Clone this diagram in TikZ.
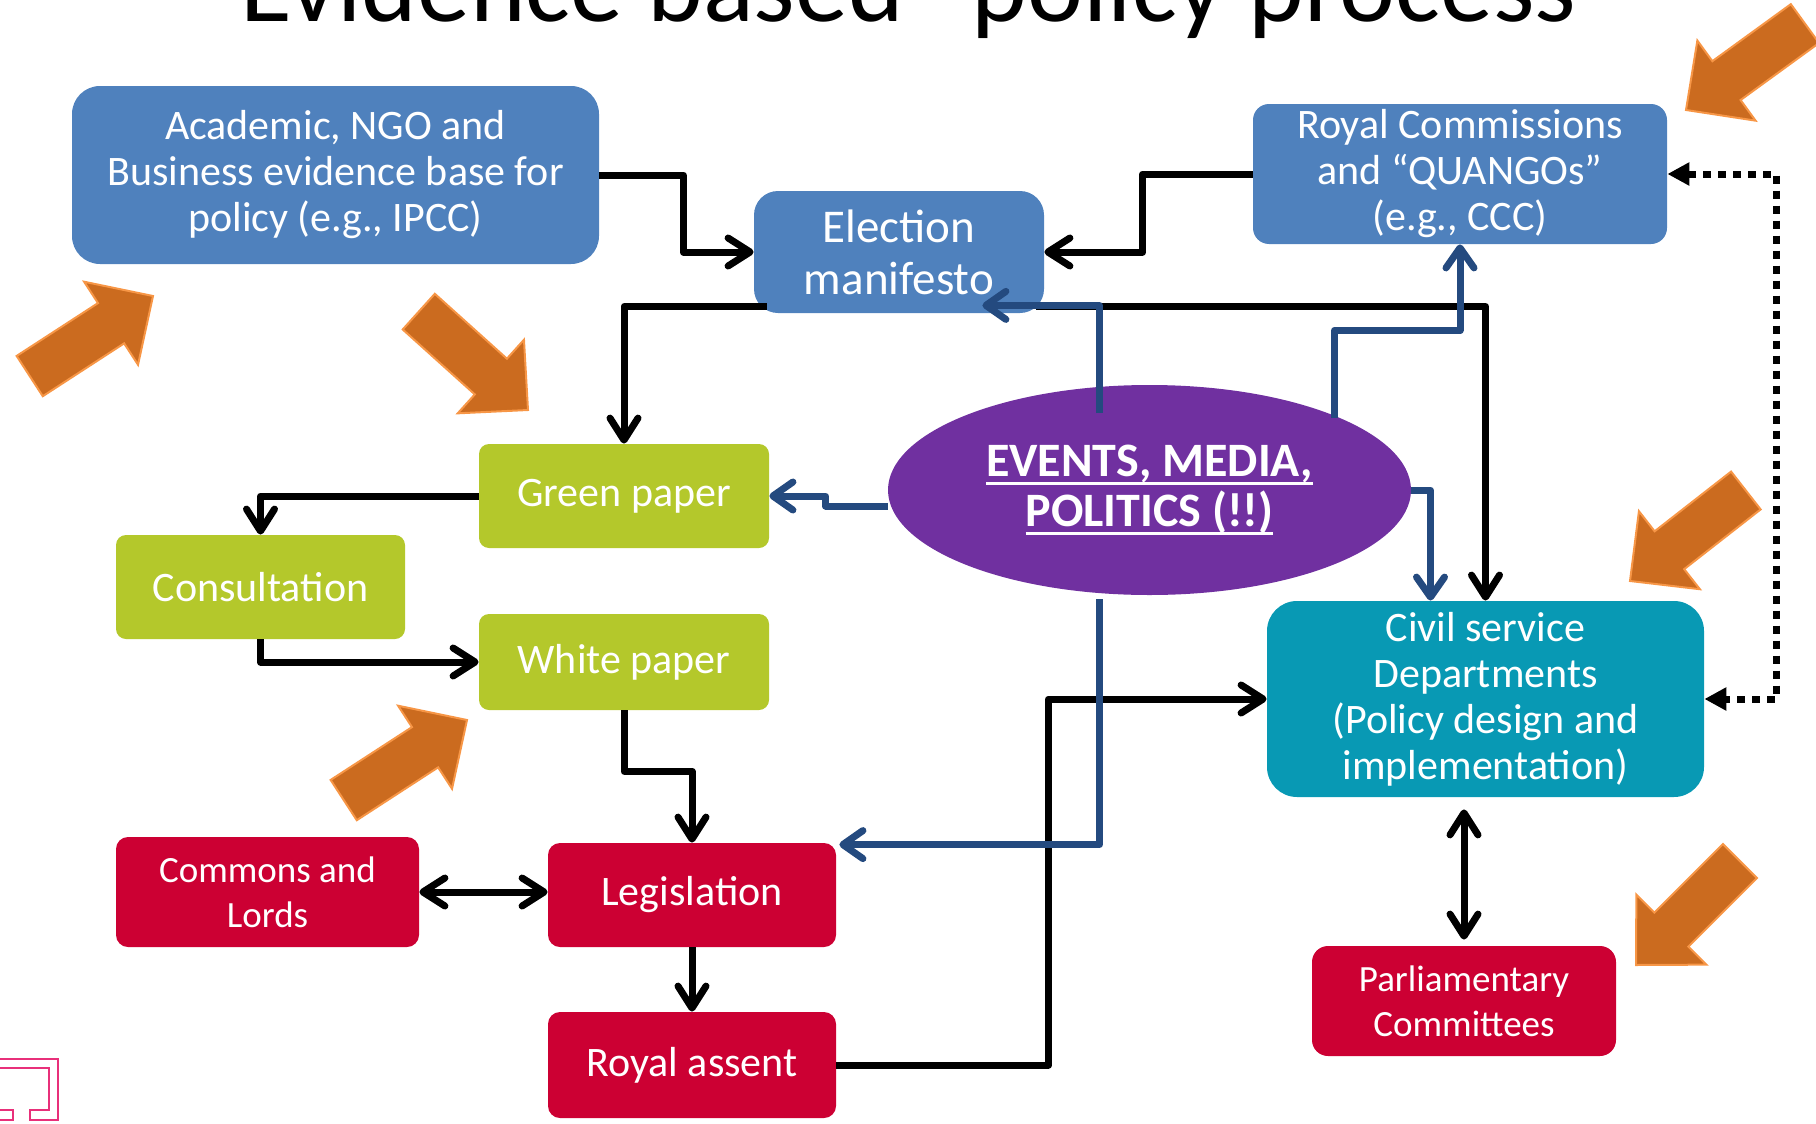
\documentclass[tikz,border=0pt]{standalone}
\usepackage{fontspec}
\setmainfont{Carlito}
\usetikzlibrary{arrows.meta,shapes.geometric,calc}
\definecolor{boxblue}{HTML}{4F81BD}
\definecolor{boxgreen}{HTML}{B4C82B}
\definecolor{boxred}{HTML}{CC0033}
\definecolor{boxteal}{HTML}{0899B4}
\definecolor{boxpurple}{HTML}{7030A0}
\definecolor{connblue}{HTML}{244A7F}
\definecolor{orfill}{HTML}{CB6B1F}
\definecolor{orline}{HTML}{F79646}
\definecolor{iconpink}{HTML}{E8307A}
\newcommand{\myul}[1]{\setbox0=\hbox{#1}\rlap{\copy0}\rule[-4.5pt]{\wd0}{1.5pt}}
\newcommand{\orarrow}[3]{%
  \begin{scope}[shift={(#1,#2)},rotate=#3]
    \filldraw[fill=orfill,draw=orline,line width=1pt,line join=miter]
      (0,0) -- (-50,49.5) -- (-50,24) -- (-147,24) -- (-147,-24) -- (-50,-24) -- (-50,-49.5) -- cycle;
  \end{scope}}
\tikzset{
  box/.style={rounded corners=6pt, text=white, align=center, inner sep=0pt,
    font=\fontsize{21pt}{23pt}\selectfont},
  smallbox/.style={box, font=\fontsize{18.5pt}{22.5pt}\selectfont},
  blk/.style={line width=3.5pt, draw=black, line join=round,
    -{Straight Barb[length=11pt,width=14pt,round]}},
  blkdbl/.style={line width=3.5pt, draw=black, line join=round,
    {Straight Barb[length=11pt,width=14pt,round]}-{Straight Barb[length=11pt,width=14pt,round]}},
  blu/.style={line width=3.5pt, draw=connblue, line join=round,
    -{Straight Barb[length=10pt,width=14pt,round]}},
  dotarrow/.style={line width=3.5pt, draw=black, dash pattern=on 4pt off 3.5pt,
    {Triangle[length=11pt,width=11pt]}-{Triangle[length=11pt,width=11pt]}},
}
\begin{document}
\begin{tikzpicture}[x=0.5pt,y=-0.5pt]
\useasboundingbox (0,0) rectangle (1816,1124);
\clip (0,0) rectangle (1816,1124);

% title
\node[anchor=base west, inner sep=0pt, font=\fontsize{53pt}{60pt}\selectfont] (title) at (240,21) {\llap{“}Evidence based” policy process};

% nodes
\node[box, fill=boxblue, minimum width=263.5pt, minimum height=89pt, rounded corners=14pt] (acad) at (335.5,175)
  {Academic, NGO and\\Business evidence base for\\policy (e.g., IPCC)};
\node[box, fill=boxblue, minimum width=145pt, minimum height=61pt, rounded corners=12pt,
  font=\fontsize{23.5pt}{26pt}\selectfont] (elect) at (899,252) {Election\\manifesto};
\node[box, fill=boxblue, minimum width=207pt, minimum height=70pt, rounded corners=8pt] (royal) at (1460,174)
  {Royal Commissions\\and “QUANGOs”\\(e.g., CCC)};
\node[box, fill=boxgreen, minimum width=145pt, minimum height=52pt, rounded corners=5pt] (green) at (624,496) {Green paper};
\node[box, fill=boxgreen, minimum width=144.5pt, minimum height=52pt, rounded corners=5pt] (consult) at (260.5,587) {Consultation};
\node[box, fill=boxgreen, minimum width=145pt, minimum height=48pt, rounded corners=5pt] (white) at (624,662) {White paper};
\node[smallbox, fill=boxred, minimum width=151.5pt, minimum height=55pt] (commons) at (267.5,892) {Commons and\\Lords};
\node[box, fill=boxred, minimum width=144pt, minimum height=52pt] (legis) at (692,895) {Legislation};
\node[box, fill=boxred, minimum width=144pt, minimum height=53pt] (assent) at (692,1065) {Royal assent};
\node[box, fill=boxteal, minimum width=218.5pt, minimum height=98pt, rounded corners=15pt] (civil) at (1485.5,699)
  {Civil service\\Departments\\(Policy design and\\implementation)};
\node[smallbox, fill=boxred, minimum width=152pt, minimum height=55pt, rounded corners=8pt] (parl) at (1464,1001)
  {Parliamentary\\Committees};
\node[ellipse, fill=boxpurple, text=white, align=center, inner sep=0pt, minimum width=261.5pt, minimum height=105pt,
  font=\fontsize{24pt}{25pt}\selectfont\bfseries] (ell) at (1149.5,490)
  {\myul{EVENTS, MEDIA,}\\\myul{POLITICS (!!)}};

% black connectors
\draw[blk] (acad.east) -- ++(84,0) |- (elect.west);
\draw[blk] (royal.west) -- ++(-110,0) |- (elect.east);
\draw[blk] ($(elect.south west)+(13,-7)$) -| (green.north);
\draw[blk] ($(elect.south east)+(-8,-7)$) -| (civil.north);
\draw[blk] (green.west) -| (consult.north);
\draw[blk] (consult.south) |- (white.west);
\draw[blk] (white.south) -- ++(0,61) -| (legis.north);
\draw[blkdbl] (commons.east) -- (commons.east -| legis.west);
\draw[blk] (legis.south) -- (assent.north);
\draw[blk] (assent.east) -- ++(212,0) |- (civil.west);
\draw[blkdbl] ($(parl.north)+(0,-6)$) -- ($(parl.north |- civil.south)+(0,12)$);
\draw[dotarrow] (royal.east) -- ++(109,0) |- (civil.east);

% blue connectors
\draw[blu] ($(ell.center)+(-50,-77)$) |- ($(elect.south east)+(-62,-8)$);
\draw[blu] ($(ell.center)+(185,-72)$) |- ($(royal.south)+(0,86)$) -- (royal.south);
\draw[blu] (ell.east) -| ($(civil.north)+(-55,0)$);
\draw[blu] ($(ell.west)+(0,16)$) -- ++(-62,0) |- (green.east);
\draw[blu] ($(ell.south)+(-50,4)$) |- ($(legis.north east)+(3,2)$);

% orange arrows
\orarrow{1686}{110}{216}
\orarrow{153}{296}{33}
\orarrow{528}{410}{-42}
\orarrow{467}{720}{33}
\orarrow{1630}{581}{218}
\orarrow{1636}{965}{225}

% corner icon
\draw[iconpink, line width=1.2pt] (0,1059) -- (58,1059) -- (58,1120) -- (30,1120) -- (30,1110) -- (49,1110) -- (49,1068) -- (0,1068);
\draw[iconpink, line width=1.2pt] (0,1110) -- (13,1110) -- (13,1120) -- (0,1120);
\end{tikzpicture}
\end{document}
